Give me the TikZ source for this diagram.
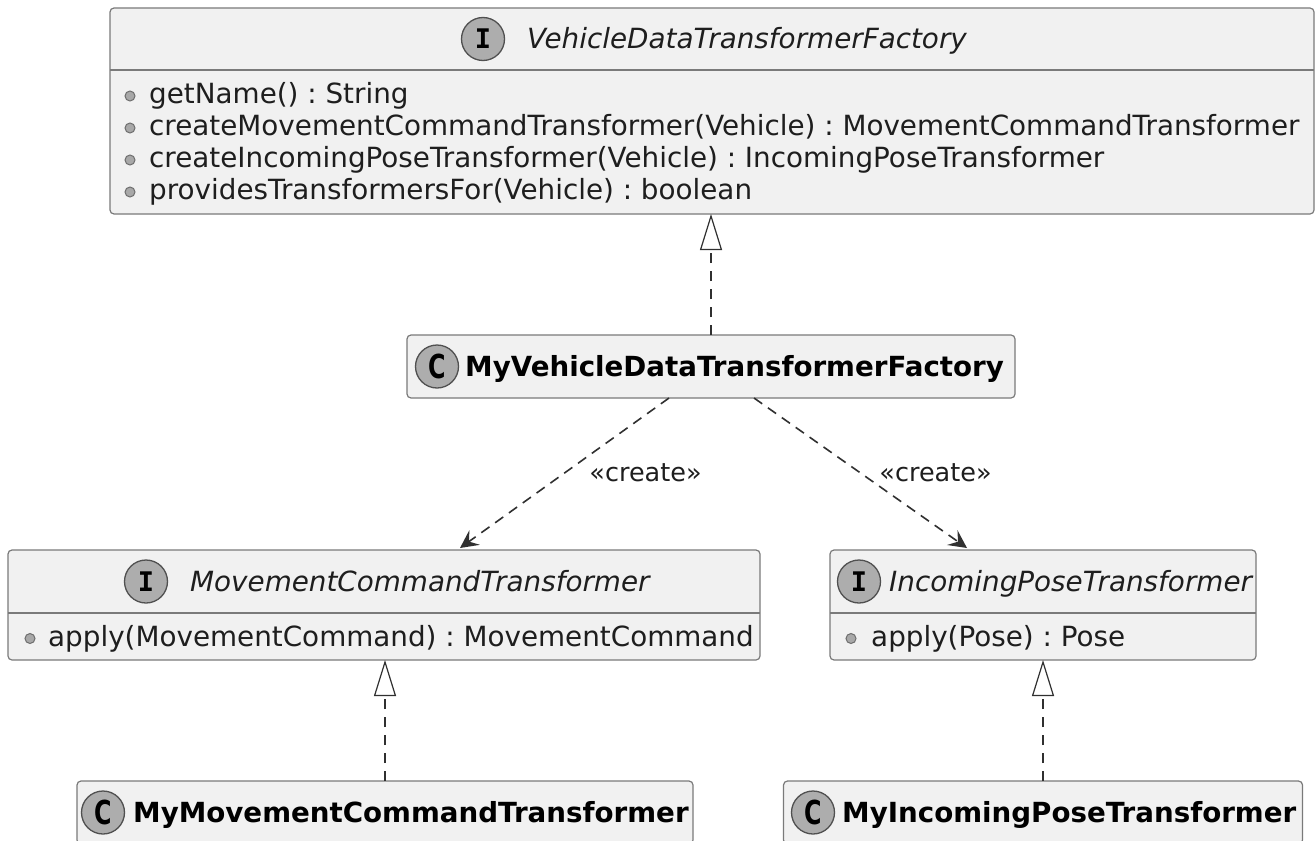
\documentclass[tikz,border=0pt]{standalone}
\usepackage{fontspec}
\setmainfont{DejaVu Sans}
\newfontfamily\iconfont{DejaVu Sans Mono}
\usetikzlibrary{arrows.meta}
\frenchspacing
\definecolor{boxfill}{HTML}{F1F1F1}
\definecolor{boxdraw}{HTML}{7A7A7A}
\definecolor{iconfill}{HTML}{ADADAD}
\definecolor{icondraw}{HTML}{505050}
\definecolor{visfill}{HTML}{A8A8A8}
\definecolor{visdraw}{HTML}{6E6E6E}
\definecolor{linec}{HTML}{303030}
\definecolor{txt}{HTML}{1E1E1E}
\tikzset{
 umlbox/.style={draw=boxdraw, fill=boxfill, rounded corners=4pt, line width=1.2pt, inner sep=0pt, outer sep=0pt},
 sepline/.style={draw=boxdraw, line width=1.2pt},
 iconstyle/.style={circle, draw=icondraw, fill=iconfill, line width=1.3pt, minimum size=43pt, inner sep=0pt, text=black, font=\iconfont\bfseries\fontsize{27}{27}\selectfont},
 hdrital/.style={anchor=base west, inner sep=0pt, font=\itshape\fontsize{27.8}{32}\selectfont, text=txt},
 hdrbold/.style={anchor=base west, inner sep=0pt, font=\bfseries\fontsize{27.7}{32}\selectfont, text=black},
 member/.style={anchor=base west, inner sep=0pt, font=\fontsize{27.8}{32}\selectfont, text=txt},
 vis/.style={circle, draw=visdraw, fill=visfill, line width=1pt, minimum size=10pt, inner sep=0pt},
 realize/.style={draw=linec, line width=1.6pt, dash pattern=on 10pt off 8pt, -{Triangle[length=36pt, width=22pt, fill=white, line width=1.2pt]}},
 create/.style={draw=linec, line width=1.6pt, dash pattern=on 10pt off 7pt, -{Stealth[length=18pt, width=18pt, inset=7pt]}},
 lbl/.style={anchor=base, inner sep=0pt, font=\fontsize{25.5}{30}\selectfont, text=txt}
}
\newcommand{\Cletter}{\rmfamily\bfseries\fontsize{33}{33}\selectfont\scalebox{0.72}[1]{C}}
\begin{document}
\begin{tikzpicture}[x=1pt, y=-1pt]
\useasboundingbox[fill=white] (0,0) rectangle (1316,840);
\clip (0,0) rectangle (1316,840);

% VehicleDataTransformerFactory
\node[umlbox, minimum width=1204pt, minimum height=206pt] (vdtf) at (712,111) {};
\draw[sepline] (vdtf.west |- 0,70) -- (vdtf.east |- 0,70);
\node[iconstyle] (vdtfi) at (483,39) {I};
\node[hdrital] (vdtft) at (527,48.5) {VehicleDataTransformerFactory};
\node[vis] (v1) at (130,96) {};
\node[member] (m1) at (149,103.5) {getName() : String};
\node[vis] (v2) at (130,128) {};
\node[member] (m2) at (149,135.5) {createMovementCommandTransformer(Vehicle) : MovementCommandTransformer};
\node[vis] (v3) at (130,160) {};
\node[member] (m3) at (149,167.5) {createIncomingPoseTransformer(Vehicle) : IncomingPoseTransformer};
\node[vis] (v4) at (130,192) {};
\node[member] (m4) at (149,199.5) {providesTransformersFor(Vehicle) : boolean};

% MyVehicleDataTransformerFactory
\node[umlbox, minimum width=608pt, minimum height=63pt] (mvdtf) at (711,366.5) {};
\node[iconstyle] (mvdtfi) at (437,366.5) {\Cletter};
\node[hdrbold] (mvdtft) at (465,376) {MyVehicleDataTransformerFactory};

% MovementCommandTransformer
\node[umlbox, minimum width=752pt, minimum height=110pt] (mct) at (384,605) {};
\draw[sepline] (mct.west |- 0,613) -- (mct.east |- 0,613);
\node[iconstyle] (mcti) at (146,581.5) {I};
\node[hdrital] (mctt) at (190,591) {MovementCommandTransformer};
\node[vis] (v5) at (30,638.5) {};
\node[member] (m5) at (48,646.5) {apply(MovementCommand) : MovementCommand};

% IncomingPoseTransformer
\node[umlbox, minimum width=426pt, minimum height=110pt] (ipt) at (1043,605) {};
\draw[sepline] (ipt.west |- 0,613) -- (ipt.east |- 0,613);
\node[iconstyle] (ipti) at (859,581.5) {I};
\node[hdrital] (iptt) at (889,591) {IncomingPoseTransformer};
\node[vis] (v6) at (851,638.5) {};
\node[member] (m6) at (871,646.5) {apply(Pose) : Pose};

% MyMovementCommandTransformer
\node[umlbox, minimum width=616pt, minimum height=63pt] (mmct) at (385,812.5) {};
\node[iconstyle] (mmcti) at (103,812.5) {\Cletter};
\node[hdrbold] (mmctt) at (133,822) {MyMovementCommandTransformer};

% MyIncomingPoseTransformer
\node[umlbox, minimum width=519pt, minimum height=63pt] (mipt) at (1043,812.5) {};
\node[iconstyle] (mipti) at (813,812.5) {\Cletter};
\node[hdrbold] (miptt) at (842,822) {MyIncomingPoseTransformer};

% connectors
\draw[realize] (mvdtf.north) -- (mvdtf.north |- vdtf.south);
\draw[realize] (mmct.north) -- (mmct.north |- mct.south);
\draw[realize] (mipt.north) -- (mipt.north |- ipt.south);
\draw[create] ([xshift=-42pt]mvdtf.south) -- ([xshift=76pt, yshift=2pt]mct.north)
  node[lbl, pos=0.5, xshift=81pt, yshift=-8pt] {«create»};
\draw[create] ([xshift=43pt]mvdtf.south) -- ([xshift=-76pt, yshift=2pt]ipt.north)
  node[lbl, pos=0.5, xshift=75pt, yshift=-8pt] {«create»};
\end{tikzpicture}
\end{document}
